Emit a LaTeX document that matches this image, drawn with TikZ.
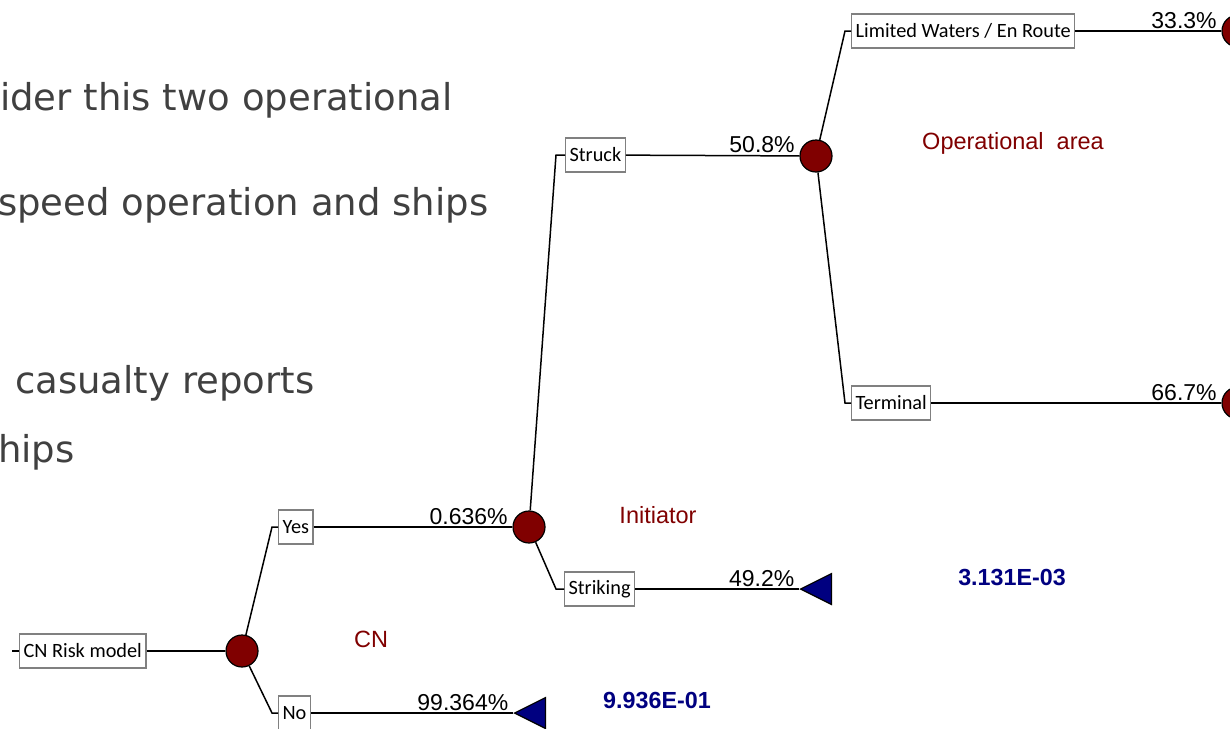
\documentclass[tikz,border=0pt]{standalone}
\usepackage{fontspec}
\setmainfont{Liberation Sans}
\newfontfamily\boxfont{Carlito}
\newfontfamily\slidefont{DejaVu Sans}
\usetikzlibrary{shapes.geometric}
\definecolor{darkred}{HTML}{800000}
\definecolor{navyblue}{HTML}{000080}
\definecolor{slidegray}{HTML}{404040}
\begin{document}
\begin{tikzpicture}[x=1pt, y=-1pt,
    lbl/.style={draw=gray, line width=1.2pt, fill=white, anchor=west,
        font=\boxfont\fontsize{20.3}{20.3}\selectfont, inner xsep=4pt, minimum height=34pt},
    chance/.style={circle, draw=black, line width=1.2pt, fill=darkred, minimum size=32pt, inner sep=0pt},
    term/.style={isosceles triangle, shape border rotate=180, isosceles triangle stretches,
        draw=black, line width=1.2pt, fill=navyblue, minimum width=31pt, minimum height=31pt,
        inner sep=0pt, anchor=apex},
    pct/.style={font=\fontsize{23}{23}\selectfont, anchor=base east, inner sep=0pt, xshift=-4pt, yshift=3pt},
    stage/.style={font=\fontsize{23.5}{23.5}\selectfont, text=darkred},
    res/.style={font=\bfseries\fontsize{23.3}{23.3}\selectfont, text=navyblue},
    slide/.style={font=\slidefont\fontsize{37}{37}\selectfont, text=slidegray, anchor=base west, inner sep=0pt},
    conn/.style={line width=1.5pt}
]
\useasboundingbox (0,0) rectangle (1230,728);

% Slide text behind the tree
\node[slide] (l1) at (0,110) {ider this two operational};
\node[slide] (l2) at (-2,215) {speed operation and ships};
\node[slide] (l3) at (15,393) {casualty reports};
\node[slide] (l4) at (-2,462) {hips};

% Root
\coordinate (start) at (12,651);
\node[lbl] (root) at (19,651) {CN Risk model};
\node[chance] (c1) at (242,651) {};

% CN branches
\coordinate (kyes) at (272,527);
\coordinate (kno) at (272,713);
\node[lbl] (yes) at (278,527) {Yes};
\node[lbl] (no) at (278,713) {No};
\node[chance] (c2) at (529,527) {};
\node[term] (t1) at (513,713) {};

% Initiator branches
\coordinate (kstruck) at (556,155);
\coordinate (kstriking) at (556,589);
\node[lbl] (struck) at (565,155) {Struck};
\node[lbl] (striking) at (564,589) {Striking};
\node[chance] (c3) at (816,156) {};
\node[term] (t2) at (799,589) {};

% Operational area branches
\coordinate (klim) at (845,31);
\coordinate (kterm) at (845,403);
\node[lbl] (limited) at (851,31) {Limited Waters / En Route};
\node[lbl] (terminal) at (851,403) {Terminal};
\node[chance] (c4) at (1238,31) {};
\node[chance] (c5) at (1238,403) {};

% Connectors
\draw[conn] (start) -- (root);
\draw[conn] (root) -- (c1);
\draw[conn] (c1) -- (kyes) -- (yes);
\draw[conn] (c1) -- (kno) -- (no);
\draw[conn] (yes) -- (c2) node[pct, at end] {0.636\%};
\draw[conn] (no) -- (t1) node[pct, at end] {99.364\%};
\draw[conn] (c2) -- (kstruck) -- (struck);
\draw[conn] (c2) -- (kstriking) -- (striking);
\draw[conn] (struck) -- (c3) node[pct, at end] {50.8\%};
\draw[conn] (striking) -- (t2) node[pct, at end] {49.2\%};
\draw[conn] (c3) -- (klim) -- (limited);
\draw[conn] (c3) -- (kterm) -- (terminal);
\draw[conn] (limited) -- (c4) node[pct, at end] {33.3\%};
\draw[conn] (terminal) -- (c5) node[pct, at end] {66.7\%};

% Stage and result labels
\node[stage] (cn) at (371,639) {CN};
\node[stage] (init) at (658,515) {Initiator};
\node[stage] (area) at (1013,143) {Operational\ \ area};
\node[res] (r1) at (657,700) {9.936E-01};
\node[res] (r2) at (1012,577) {3.131E-03};
\end{tikzpicture}
\end{document}
